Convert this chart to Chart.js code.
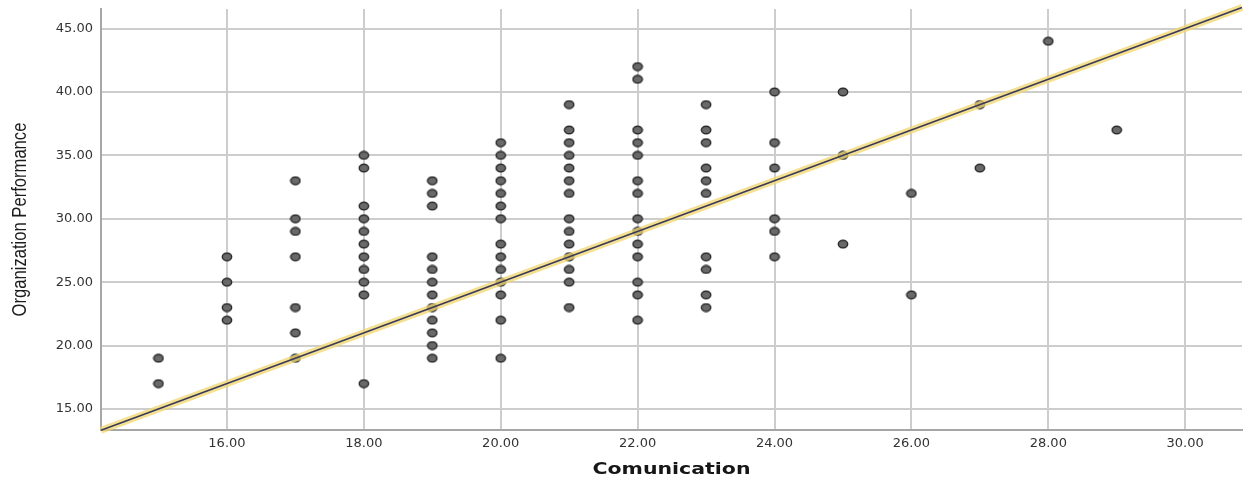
<!DOCTYPE html>
<html>
<head>
<meta charset="utf-8">
<script src="https://cdn.jsdelivr.net/npm/chart.js@4.4.1/dist/chart.umd.min.js"></script>
<style>
  html, body { margin: 0; padding: 0; background: #ffffff; }
  #wrap { width: 1253px; height: 482px; }
</style>
</head>
<body>
<div id="wrap"><canvas id="c" width="1253" height="482"></canvas></div>
<script>
// Communication score levels and the performance scores observed at each level
const COMM_LEVELS = [15, 16, 17, 18, 19, 20, 21, 22, 23, 24, 25, 26, 27, 28, 29];
const PERF_AT_LEVEL = [
  [19, 17],
  [27, 25, 23, 22],
  [33, 30, 29, 27, 23, 21, 19],
  [35, 34, 31, 30, 29, 28, 27, 26, 25, 24, 17],
  [33, 32, 31, 27, 26, 25, 24, 23, 22, 21, 20, 19],
  [36, 35, 34, 33, 32, 31, 30, 28, 27, 26, 25, 24, 22, 19],
  [39, 37, 36, 35, 34, 33, 32, 30, 29, 28, 27, 26, 25, 23],
  [42, 41, 37, 36, 35, 33, 32, 30, 29, 28, 27, 25, 24, 22],
  [39, 37, 36, 34, 33, 32, 27, 26, 24, 23],
  [40, 36, 34, 30, 29, 27],
  [40, 35, 28],
  [32, 24],
  [39, 34],
  [44],
  [37]
];
const X_TICKS = [16, 18, 20, 22, 24, 26, 28, 30];
const Y_TICKS = [15, 20, 25, 30, 35, 40, 45];
const X_RANGE = [14.16, 30.83];
const Y_RANGE = [13.34, 46.54];
// Fit line: performance = intercept + slope * communication
const FIT_INTERCEPT = -15;
const FIT_SLOPE = 2;
const X_TITLE = 'Comunication';
const Y_TITLE = 'Organization Performance';

const scatterPoints = [];
COMM_LEVELS.forEach((x, i) => PERF_AT_LEVEL[i].forEach(y => scatterPoints.push({ x, y })));
const fitPoints = X_RANGE.map(x => ({ x, y: FIT_INTERCEPT + FIT_SLOPE * x }));

// Slightly oval grey marker
function makeDot() {
  const c = document.createElement('canvas');
  c.width = 12; c.height = 10;
  const g = c.getContext('2d');
  g.beginPath();
  g.ellipse(6, 5, 4.7, 3.8, 0, 0, Math.PI * 2);
  g.fillStyle = '#696969';
  g.fill();
  g.lineWidth = 1.4;
  g.strokeStyle = '#2a2a2a';
  g.stroke();
  return c;
}
const dot = makeDot();

// Axis titles drawn with a bit of horizontal stretch / condensing
const axisTitles = {
  id: 'axisTitles',
  afterDraw(chart) {
    const { ctx, chartArea: a } = chart;
    ctx.save();
    ctx.fillStyle = '#161616';
    ctx.textAlign = 'center';
    ctx.textBaseline = 'middle';
    ctx.font = 'bold 16px "DejaVu Sans"';
    ctx.translate((a.left + a.right) / 2, 470);
    ctx.scale(1.28, 1);
    ctx.fillText(X_TITLE, 0, 0);
    ctx.restore();

    ctx.save();
    ctx.fillStyle = '#1c1c1c';
    ctx.textAlign = 'center';
    ctx.textBaseline = 'middle';
    ctx.font = '20px "Liberation Sans", Arial, sans-serif';
    ctx.translate(20, (a.top + a.bottom) / 2);
    ctx.rotate(-Math.PI / 2);
    ctx.scale(0.83, 1);
    ctx.fillText(Y_TITLE, 0, 0);
    ctx.restore();
  }
};

const tickFont = { family: '"DejaVu Sans"', size: 13 };

new Chart(document.getElementById('c'), {
  data: {
    datasets: [
      {
        type: 'line',
        data: fitPoints,
        borderColor: '#3a3a56',
        borderWidth: 1.6,
        pointRadius: 0,
        clip: 6
      },
      {
        type: 'line',
        data: fitPoints,
        borderColor: 'rgba(240, 214, 110, 0.75)',
        borderWidth: 7,
        pointRadius: 0,
        clip: 6
      },
      {
        type: 'scatter',
        data: scatterPoints,
        pointStyle: dot,
        pointRadius: 5
      }
    ]
  },
  options: {
    responsive: false,
    animation: false,
    devicePixelRatio: 1,
    layout: { padding: { left: 0, top: 9, right: 11, bottom: 0 } },
    plugins: { legend: { display: false }, tooltip: { enabled: false } },
    scales: {
      x: {
        type: 'linear',
        min: X_RANGE[0],
        max: X_RANGE[1],
        afterBuildTicks: s => { s.ticks = X_TICKS.map(v => ({ value: v })); },
        afterFit: s => { s.height = 52; s.paddingLeft = 0; s.paddingRight = 0; },
        ticks: {
          callback: v => Number(v).toFixed(2),
          font: tickFont,
          color: '#333333',
          padding: 6,
          maxRotation: 0,
          autoSkip: false
        },
        grid: { color: '#cdcdcd', lineWidth: 2, drawTicks: false },
        border: { color: '#a6a6a6', width: 2 }
      },
      y: {
        type: 'linear',
        min: Y_RANGE[0],
        max: Y_RANGE[1],
        afterBuildTicks: s => { s.ticks = Y_TICKS.map(v => ({ value: v })); },
        afterFit: s => { s.width = 101; s.paddingTop = 0; s.paddingBottom = 0; },
        ticks: {
          callback: v => Number(v).toFixed(2),
          font: tickFont,
          color: '#333333',
          padding: 8,
          autoSkip: false
        },
        grid: { color: '#cdcdcd', lineWidth: 2, drawTicks: false },
        border: { color: '#a6a6a6', width: 2 }
      }
    }
  },
  plugins: [axisTitles]
});
</script>
</body>
</html>
